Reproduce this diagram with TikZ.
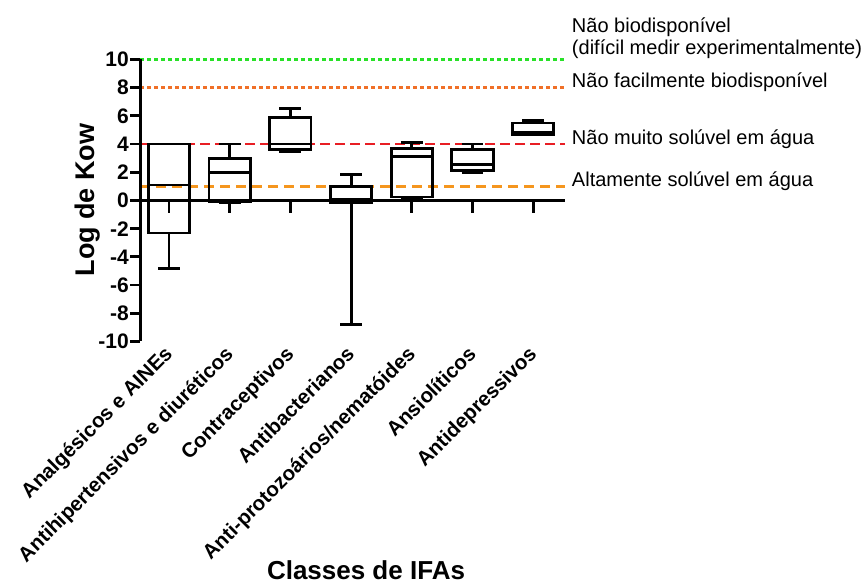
\documentclass[tikz,border=0pt]{standalone}
\usepackage{fontspec}
\setmainfont{Liberation Sans}
\definecolor{kgreen}{RGB}{40,225,40}
\definecolor{korange}{RGB}{240,112,40}
\definecolor{kred}{RGB}{232,30,36}
\definecolor{kamber}{RGB}{245,150,30}
\begin{document}
\begin{tikzpicture}[x=1pt,y=1pt,
    axis/.style={line width=2.8pt},
    boxplot/.style={line width=2.8pt},
    limit/.style={line width=2.8pt},
    ticklbl/.style={font=\fontsize{21}{24}\selectfont\bfseries,anchor=east,inner sep=1.5pt},
    classlbl/.style={font=\fontsize{20.5}{24}\selectfont\bfseries,rotate=45,anchor=north east,inner sep=0pt},
    limitlbl/.style={font=\fontsize{20}{22}\selectfont,anchor=base west,inner sep=0pt,xshift=7pt}]
  \useasboundingbox (0,0) rectangle (861,585);
  \node[rotate=90,font=\fontsize{27}{30}\selectfont\bfseries] (ylbl) at (88,385) {Log de Kow};
  \node[font=\fontsize{26}{30}\selectfont\bfseries] (xlbl) at (366,15) {Classes de IFAs};
  \begin{scope}[shift={(108.3pt,384.5pt)},x=60.7pt,y=14.1pt]
    \draw[limit,kgreen,dash pattern=on 4pt off 3pt] (0.53,10) -- (7.52,10) coordinate (lim10);
    \draw[limit,korange,dash pattern=on 4pt off 3pt] (0.53,8) -- (7.52,8) coordinate (lim8);
    \draw[limit,kred,dash pattern=on 10pt off 5pt] (0.53,4) -- (7.52,4) coordinate (lim4);
    \draw[limit,kamber,dash pattern=on 10pt off 6pt] (0.53,1) -- (7.52,1) coordinate (lim1);
    \draw
      (lim10) node[limitlbl,anchor=south west,align=left,yshift=1pt] (nbio) {Não biodisponível\\(difícil medir experimentalmente)}
      (lim8) node[limitlbl] (nfac) {Não facilmente biodisponível}
      (lim4) node[limitlbl] (nsol) {Não muito solúvel em água}
      (lim1) node[limitlbl] (asol) {Altamente solúvel em água};
    \draw[axis]
      (0.53,-10) -- (0.53,10)
      (0.365,10) -- (0.53,10)
      (0.365,8) -- (0.53,8)
      (0.365,6) -- (0.53,6)
      (0.365,4) -- (0.53,4)
      (0.365,2) -- (0.53,2)
      (0.365,0) -- (0.53,0)
      (0.365,-2) -- (0.53,-2)
      (0.365,-4) -- (0.53,-4)
      (0.365,-6) -- (0.53,-6)
      (0.365,-8) -- (0.53,-8)
      (0.365,-10) -- (0.53,-10);
    \draw[axis]
      (0.53,0) -- (7.52,0)
      (1,0) -- (1,-0.92)
      (2,0) -- (2,-0.92)
      (3,0) -- (3,-0.92)
      (4,0) -- (4,-0.92)
      (5,0) -- (5,-0.92)
      (6,0) -- (6,-0.92)
      (7,0) -- (7,-0.92);
    \draw
      (0.365,10) node[ticklbl] (y10) {10}
      (0.365,8) node[ticklbl] (y8) {8}
      (0.365,6) node[ticklbl] (y6) {6}
      (0.365,4) node[ticklbl] (y4) {4}
      (0.365,2) node[ticklbl] (y2) {2}
      (0.365,0) node[ticklbl] (y0) {0}
      (0.365,-2) node[ticklbl] (ym2) {-2}
      (0.365,-4) node[ticklbl] (ym4) {-4}
      (0.365,-6) node[ticklbl] (ym6) {-6}
      (0.365,-8) node[ticklbl] (ym8) {-8}
      (0.365,-10) node[ticklbl] (ym10) {-10};
    \draw[boxplot] (0.66,-2.3) rectangle (1.34,4) (0.66,1.1) -- (1.34,1.1)
      (1,-2.3) -- (1,-4.8) (0.82,-4.8) -- (1.18,-4.8) (0.82,4) -- (1.18,4);
    \draw[boxplot] (1.66,-0.05) rectangle (2.34,3) (1.66,2) -- (2.34,2)
      (2,3) -- (2,4) (1.82,4) -- (2.18,4) (1.82,-0.15) -- (2.18,-0.15);
    \draw[boxplot] (2.66,3.6) rectangle (3.34,5.9) (2.66,4) -- (3.34,4)
      (3,5.9) -- (3,6.5) (2.82,6.5) -- (3.18,6.5) (2.82,3.45) -- (3.18,3.45);
    \draw[boxplot] (3.66,-0.15) rectangle (4.34,1) (3.66,0.05) -- (4.34,0.05)
      (4,1) -- (4,1.85) (3.82,1.85) -- (4.18,1.85)
      (4,-0.15) -- (4,-8.8) (3.82,-8.8) -- (4.18,-8.8);
    \draw[boxplot] (4.66,0.25) rectangle (5.34,3.7) (4.66,3.1) -- (5.34,3.1)
      (5,3.7) -- (5,4.1) (4.82,4.1) -- (5.18,4.1) (4.82,0.1) -- (5.18,0.1);
    \draw[boxplot] (5.66,2.1) rectangle (6.34,3.6) (5.66,2.55) -- (6.34,2.55)
      (6,3.6) -- (6,4) (5.82,4) -- (6.18,4) (5.82,1.95) -- (6.18,1.95);
    \draw[boxplot] (6.66,4.7) rectangle (7.34,5.5) (6.66,4.8) -- (7.34,4.8)
      (6.82,5.65) -- (7.18,5.65) (6.82,4.65) -- (7.18,4.65);
    \draw
      (0.9,-10.2) node[classlbl] (c1) {Analgésicos e AINEs}
      (1.9,-10.2) node[classlbl] (c2) {Antihipertensivos e diuréticos}
      (2.9,-10.2) node[classlbl] (c3) {Contraceptivos}
      (3.9,-10.2) node[classlbl] (c4) {Antibacterianos}
      (4.9,-10.2) node[classlbl] (c5) {Anti-protozoários/nematóides}
      (5.9,-10.2) node[classlbl] (c6) {Ansiolíticos}
      (6.9,-10.2) node[classlbl] (c7) {Antidepressivos};
  \end{scope}
\end{tikzpicture}
\end{document}
